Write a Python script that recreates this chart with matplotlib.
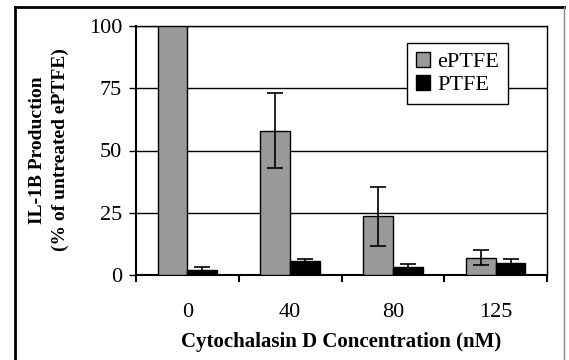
import matplotlib
matplotlib.use("Agg")
import matplotlib.pyplot as plt
import numpy as np
from matplotlib.lines import Line2D

categories = ["0", "40", "80", "125"]
eptfe = [100, 58, 23.5, 7]
eptfe_err = [0, 15, 12, 3]
ptfe = [2, 5.5, 3.3, 4.8]
ptfe_err = [1.2, 1.0, 1.0, 1.6]
yticks = [0, 25, 50, 75, 100]

plt.rcParams['font.family'] = ['Liberation Serif', 'DejaVu Serif']

fig = plt.figure(figsize=(5.69, 3.6), dpi=100)
ax = fig.add_axes([136/569, 1-275/360, (547-136)/569, (275-26)/360])

x = np.arange(len(categories))
w = 0.29
ax.set_axisbelow(True)
ax.yaxis.grid(True, color='black', linewidth=1.0)
ax.bar(x - w/2, eptfe, w, color='#999999', edgecolor='black', linewidth=1.0,
       label='ePTFE', yerr=eptfe_err, capsize=5.5,
       error_kw=dict(ecolor='black', elinewidth=1.2, capthick=1.2), zorder=3)
ax.bar(x + w/2, ptfe, w, color='black', edgecolor='black', linewidth=1.0,
       label='PTFE', yerr=ptfe_err, capsize=5.5,
       error_kw=dict(ecolor='black', elinewidth=1.2, capthick=1.2), zorder=3)

ax.set_xlim(-0.5, len(categories) - 0.5)
ax.set_ylim(0, 100)
ax.set_yticks(yticks)
ax.set_xticks(x)
ax.set_xticklabels(categories)
ax.set_xticks(np.arange(len(categories) + 1) - 0.5, minor=True)
ax.tick_params(axis='x', which='major', length=0, pad=20, labelsize=16)
ax.tick_params(axis='x', which='minor', length=5, width=1.5, direction='out')
ax.tick_params(axis='y', length=5, width=1.0, direction='out', labelsize=16, pad=5)
for s in ['left', 'bottom']:
    ax.spines[s].set_linewidth(1.5)
for s in ['top', 'right']:
    ax.spines[s].set_linewidth(1.0)

ax.set_xlabel('Cytochalasin D Concentration (nM)', fontsize=15, fontweight='bold', labelpad=7)
fig.text(49/569, 1-150/360, 'IL-1B Production\n(% of untreated ePTFE)', rotation=90,
         ha='center', va='center', multialignment='center', fontsize=14,
         fontweight='bold', linespacing=1.4)

leg = ax.legend(loc='upper left', bbox_to_anchor=(407/569, 1-43/360),
                bbox_transform=fig.transFigure, frameon=True, fancybox=False,
                edgecolor='black', framealpha=1, fontsize=16, handlelength=0.65,
                handleheight=0.65, handletextpad=0.3, borderpad=0.4, labelspacing=0.12,
                borderaxespad=0)
leg.get_frame().set_linewidth(1.0)

# figure border
fig.add_artist(Line2D([15/569, 15/569], [0, 1-7/360], color='black', linewidth=2.0,
                      transform=fig.transFigure))
fig.add_artist(Line2D([15/569, 564/569], [1-7/360, 1-7/360], color='black', linewidth=2.0,
                      transform=fig.transFigure))
fig.add_artist(Line2D([564/569, 564/569], [0, 1-7/360], color='#888888', linewidth=1.0,
                      transform=fig.transFigure))

fig.savefig('out.png', dpi=100)
